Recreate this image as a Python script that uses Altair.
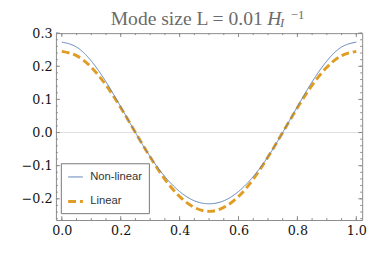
import altair as alt
import pandas as pd

# ---- data ----
x_vals = [0.0, 0.05, 0.1, 0.15, 0.2, 0.25, 0.3, 0.35, 0.4, 0.45, 0.5,
          0.55, 0.6, 0.65, 0.7, 0.75, 0.8, 0.85, 0.9, 0.95, 1.0]
nonlinear = [0.273, 0.258, 0.216, 0.153, 0.078, 0.000, -0.073, -0.133, -0.178, -0.206, -0.215,
             -0.206, -0.178, -0.133, -0.073, 0.000, 0.078, 0.153, 0.216, 0.258, 0.273]
linear = [0.245, 0.232, 0.197, 0.143, 0.075, 0.000, -0.074, -0.141, -0.193, -0.226, -0.238,
          -0.226, -0.193, -0.141, -0.074, 0.000, 0.075, 0.143, 0.197, 0.232, 0.245]
series_names = ["Non-linear", "Linear"]
series_colors = ["#5E81B5", "#E19C24"]

x_major = [0.0, 0.2, 0.4, 0.6, 0.8, 1.0]
x_minor = [round(0.05 * i, 2) for i in range(21)]
y_major = [-0.2, -0.1, 0.0, 0.1, 0.2, 0.3]
y_minor = [round(-0.26 + 0.02 * i, 2) for i in range(29)]

title_main = "Mode size L = 0.01"
title_H = "H"
title_sub = "I"
title_sup = "\u22121"

W, H = 313, 191
X_DOM = [-0.02, 1.02]
Y_DOM = [-0.264, 0.300]
SERIF = "Liberation Serif"
TICKFONT = "DejaVu Serif"
FRAME = "#8a8a8a"

df = pd.DataFrame({
    "x": x_vals * 2,
    "y": nonlinear + linear,
    "series": ["Non-linear"] * len(x_vals) + ["Linear"] * len(x_vals),
})

xs = alt.Scale(domain=X_DOM, nice=False, zero=False)
ys = alt.Scale(domain=Y_DOM, nice=False, zero=False)
x_axis = alt.Axis(values=x_major, format=".1f", title=None, domain=False,
                  ticks=False, grid=False, labelFont=TICKFONT, labelFontSize=13,
                  labelPadding=5, labelColor="#111111")
y_axis = alt.Axis(values=y_major, format=".1f", title=None, domain=False,
                  ticks=False, grid=False, labelFont=TICKFONT, labelFontSize=13,
                  labelPadding=4, labelColor="#111111")

color = alt.Color("series:N", scale=alt.Scale(domain=series_names, range=series_colors),
                  title=None,
                  legend=alt.Legend(orient="none", legendX=5, legendY=133,
                                    fillColor="white", strokeColor="#777777",
                                    padding=6, rowPadding=10, symbolSize=225,
                                    symbolType="stroke", labelOffset=6,
                                    labelFont="Liberation Sans", labelFontSize=11.5,
                                    labelColor="#333333", cornerRadius=0))
dash = alt.StrokeDash("series:N", scale=alt.Scale(domain=series_names, range=[[1, 0], [8, 4]]),
                      title=None)
swidth = alt.StrokeWidth("series:N", scale=alt.Scale(domain=series_names, range=[1, 3]),
                         title=None)

zero = alt.Chart(pd.DataFrame({"z": [0.0]})).mark_rule(color="#dddddd", strokeWidth=1).encode(
    y=alt.Y("z:Q", scale=ys, axis=y_axis))

def line_layer(name):
    return alt.Chart(df).transform_filter(alt.datum.series == name).mark_line(
        interpolate="natural").encode(
        x=alt.X("x:Q", scale=xs, axis=x_axis),
        y=alt.Y("y:Q", scale=ys, axis=y_axis),
        color=color, strokeDash=dash, strokeWidth=swidth)

lin = line_layer("Linear")
nonlin = line_layer("Non-linear")

def xticks(vals, length):
    d = pd.DataFrame({"x": vals})
    bottom = alt.Chart(d).mark_rule(color=FRAME, strokeWidth=1).encode(
        x=alt.X("x:Q", scale=xs, axis=x_axis), y=alt.value(H), y2=alt.value(H - length))
    top = alt.Chart(d).mark_rule(color=FRAME, strokeWidth=1).encode(
        x=alt.X("x:Q", scale=xs, axis=x_axis), y=alt.value(0), y2=alt.value(length))
    return bottom + top

def yticks(vals, length):
    d = pd.DataFrame({"y": vals})
    left = alt.Chart(d).mark_rule(color=FRAME, strokeWidth=1).encode(
        y=alt.Y("y:Q", scale=ys, axis=y_axis), x=alt.value(0), x2=alt.value(length))
    right = alt.Chart(d).mark_rule(color=FRAME, strokeWidth=1).encode(
        y=alt.Y("y:Q", scale=ys, axis=y_axis), x=alt.value(W), x2=alt.value(W - length))
    return left + right

def txt(s, x, y, size, style="normal"):
    return alt.Chart(pd.DataFrame({"s": [s]})).mark_text(
        font=SERIF, fontSize=size, fontStyle=style, color="#6b6b6b",
        align="left", baseline="alphabetic").encode(
        text="s:N", x=alt.value(x), y=alt.value(y))

title = (txt(title_main, 56, -8, 20) + txt(title_H, 216, -8, 20, "italic")
         + txt(title_sub, 229, -6, 13, "italic") + txt(title_sup, 240, -14, 13))

chart = alt.layer(
    zero,
    xticks(x_minor, 2), xticks(x_major, 4),
    yticks(y_minor, 2), yticks(y_major, 4),
    lin, nonlin, title,
).properties(
    width=W, height=H,
    autosize=alt.AutoSizeParams(type="none"),
    padding={"left": 49, "top": 23, "right": 8, "bottom": 30},
).configure_view(stroke=FRAME, strokeWidth=1)

chart.save("out.html", embed_options={"renderer": "svg", "actions": False})
